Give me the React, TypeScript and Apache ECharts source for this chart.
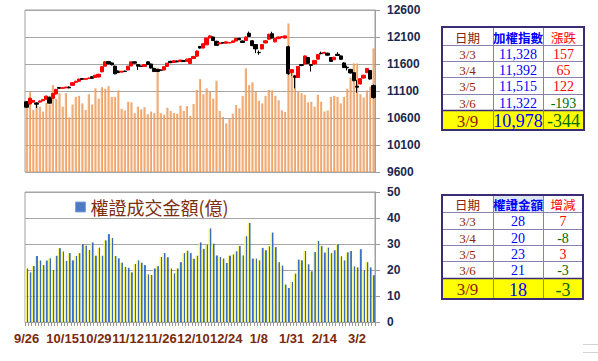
import { useEffect, useRef } from 'react';
import * as echarts from 'echarts';

const dates = [
  '9/26', '9/27', '9/30',
  '10/1', '10/2', '10/3', '10/4', '10/7', '10/8', '10/9', '10/14', '10/15', '10/16', '10/17', '10/18', '10/21', '10/22', '10/23', '10/24', '10/25', '10/28', '10/29', '10/30', '10/31',
  '11/1', '11/4', '11/5', '11/6', '11/7', '11/8', '11/11', '11/12', '11/13', '11/14', '11/15', '11/18', '11/19', '11/20', '11/21', '11/22', '11/25', '11/26', '11/27', '11/28', '11/29',
  '12/2', '12/3', '12/4', '12/5', '12/6', '12/9', '12/10', '12/11', '12/12', '12/13', '12/16', '12/17', '12/18', '12/19', '12/20', '12/23', '12/24', '12/25', '12/26', '12/27', '12/30', '12/31',
  '1/2', '1/3', '1/6', '1/7', '1/8', '1/9', '1/10', '1/13', '1/14', '1/15', '1/16', '1/17', '1/20', '1/30', '1/31',
  '2/3', '2/4', '2/5', '2/6', '2/7', '2/10', '2/11', '2/12', '2/13', '2/14', '2/17', '2/18', '2/19', '2/20', '2/21', '2/24', '2/25', '2/26', '2/27',
  '3/2', '3/3', '3/4', '3/5', '3/6', '3/9',
];

const tickLabels = ['9/26', '10/15', '10/29', '11/12', '11/26', '12/10', '12/24', '1/8', '1/31', '2/14', '3/2'];

// [open, close, low, high]
const ohlc = [
  [10900, 10800, 10790, 10915], [10860, 10965, 10850, 10975], [10895, 10925, 10885, 10935], [10880, 10855, 10785, 10890],
  [10895, 10915, 10885, 10925], [10920, 10940, 10910, 10950], [10946, 11005, 10940, 11015], [10985, 10875, 10865, 10995],
  [10965, 11055, 10955, 11065], [11045, 11130, 11035, 11140], [11165, 11150, 11140, 11175], [11150, 11160, 11145, 11170],
  [11160, 11172, 11150, 11180], [11172, 11158, 11150, 11185], [11205, 11254, 11200, 11262], [11262, 11280, 11255, 11290],
  [11280, 11320, 11272, 11328], [11330, 11316, 11308, 11338], [11318, 11326, 11310, 11334], [11330, 11340, 11322, 11348],
  [11365, 11335, 11328, 11372], [11350, 11392, 11342, 11400], [11360, 11410, 11352, 11418], [11455, 11550, 11448, 11558],
  [11560, 11640, 11555, 11650], [11645, 11602, 11595, 11655], [11620, 11585, 11575, 11628], [11560, 11418, 11410, 11570],
  [11470, 11440, 11432, 11480], [11450, 11465, 11440, 11472], [11468, 11462, 11455, 11478], [11490, 11560, 11484, 11566],
  [11565, 11640, 11560, 11648], [11640, 11615, 11608, 11650], [11590, 11560, 11490, 11598], [11562, 11555, 11548, 11570],
  [11555, 11590, 11548, 11598], [11640, 11590, 11582, 11648], [11600, 11525, 11518, 11606], [11520, 11460, 11452, 11528],
  [11500, 11462, 11455, 11506], [11488, 11484, 11476, 11495], [11490, 11550, 11484, 11556], [11555, 11615, 11548, 11622],
  [11650, 11625, 11615, 11658], [11628, 11660, 11620, 11668], [11655, 11640, 11632, 11662], [11645, 11672, 11638, 11680],
  [11665, 11645, 11640, 11672], [11650, 11690, 11645, 11698], [11610, 11700, 11605, 11708], [11700, 11740, 11695, 11750],
  [11745, 11840, 11735, 11850], [11925, 11896, 11885, 11935], [11896, 11975, 11890, 11985], [11955, 12080, 11950, 12090],
  [12085, 12120, 12075, 12135], [12100, 12035, 12025, 12110], [12020, 11945, 11935, 12030], [11975, 11990, 11965, 12000],
  [11995, 11988, 11980, 12005], [11985, 12010, 11978, 12018], [11992, 11995, 11985, 12002], [12000, 12026, 11990, 12035],
  [12026, 12075, 12020, 12082], [12075, 12050, 12042, 12085], [12026, 11997, 11990, 12035], [12035, 12100, 12028, 12110],
  [12170, 12110, 12100, 12200], [12030, 11940, 11930, 12040], [11960, 11880, 11800, 11968], [11815, 11810, 11770, 11850],
  [11880, 11960, 11870, 11970], [11990, 12030, 11982, 12040], [12060, 12150, 12050, 12160], [12160, 12080, 12070, 12197],
  [12010, 12070, 12000, 12078], [12070, 12100, 12060, 12110], [12095, 12105, 12085, 12115], [12080, 12120, 12070, 12130],
  [11920, 11421, 11400, 11940], [11440, 11495, 11380, 11505], [11380, 11354, 11150, 11400], [11350, 11555, 11340, 11565],
  [11590, 11574, 11560, 11600], [11600, 11749, 11595, 11760], [11720, 11612, 11600, 11730], [11590, 11574, 11460, 11600],
  [11600, 11664, 11592, 11672], [11690, 11774, 11682, 11782], [11800, 11791, 11780, 11830], [11800, 11815, 11792, 11825],
  [11800, 11763, 11755, 11810], [11720, 11648, 11640, 11728], [11680, 11725, 11672, 11735], [11780, 11758, 11750, 11820],
  [11750, 11686, 11678, 11758], [11620, 11534, 11525, 11630], [11540, 11530, 11480, 11570], [11500, 11434, 11425, 11510],
  [11440, 11292, 11280, 11450], [11190, 11171, 11070, 11300], [11230, 11328, 11220, 11338], [11340, 11392, 11330, 11402],
  [11440, 11515, 11430, 11525], [11480, 11322, 11310, 11490], [11200, 10978, 10960, 11220],
];

// market turnover (億), drawn behind the index
const turnover = [
  1210, 1480, 1150, 1240, 1210, 1120, 1280, 1250, 1610, 1350,
  1460, 1210, 1460, 1010, 1250, 1390, 1410, 1270, 1150, 1440,
  1250, 1550, 1360, 1570, 1540, 1590, 1390, 1390, 1510, 1170,
  1140, 1300, 1290, 1090, 1210, 1160, 1200, 1070, 1120, 1090,
  1930, 1090, 1060, 1190, 1130, 1090, 1080, 1230, 1130, 1220,
  1040, 1260, 1520, 1720, 1440, 1550, 1490, 1360, 1690, 1130,
  1020, 900, 980, 1080, 1240, 1180, 1410, 1920, 1610, 1660,
  1490, 1320, 1270, 1410, 1520, 1510, 1410, 1330, 1140, 1110,
  2750, 1830, 1770, 1490, 1460, 1430, 1290, 1300, 1210, 1430,
  1300, 1120, 1140, 1390, 1410, 1390, 1270, 1390, 1540, 1750,
  2010, 2010, 1440, 1380, 1510, 1580, 2290,
];

// warrant turnover (億)
const warrant = [
  20.6, 19.1, 21.5, 25.4, 23.7, 21.9, 23.7, 24.5, 20.0, 25.5,
  28.4, 27.1, 23.5, 26.5, 23.7, 25.4, 26.5, 30.0, 29.4, 27.7,
  30.6, 25.5, 28.6, 25.5, 31.4, 33.8, 32.3, 25.4, 24.5, 22.8,
  21.2, 20.9, 19.1, 22.3, 23.7, 22.8, 21.9, 18.3, 18.1, 20.6,
  21.5, 25.0, 26.5, 24.9, 20.6, 18.7, 20.6, 23.0, 26.5, 27.4,
  26.5, 24.3, 25.5, 30.6, 28.1, 29.7, 36.0, 30.1, 25.6, 25.0,
  24.4, 22.7, 25.5, 26.0, 27.2, 29.2, 25.6, 33.0, 38.1, 24.4,
  24.4, 23.7, 28.5, 27.6, 29.1, 34.4, 28.8, 23.0, 21.7, 14.4,
  13.1, 15.4, 18.6, 24.0, 23.7, 27.3, 22.2, 19.5, 26.9, 31.2,
  29.2, 26.7, 28.6, 26.5, 27.6, 29.9, 25.3, 23.7, 26.8, 27.3,
  21.4, 21, 28, 20, 23, 21, 18,
];

const tableDates = ['3/3', '3/4', '3/5', '3/6', '3/9'];
const indexValues = [11328, 11392, 11515, 11322, 10978];
const indexChanges = [157, 65, 122, -193, -344];
const warrantValues = [28, 20, 23, 21, 18];
const warrantChanges = [7, -8, 3, -3, -3];

const DATE_COLOR = '#8B2500';
const VALUE_COLOR = '#0000FF';
const UP_COLOR = '#FF0000';
const DOWN_COLOR = '#006B00';
const SERIF = '"Liberation Serif", "Noto Sans CJK TC", serif';
const CJK = '"Noto Sans CJK TC", sans-serif';
const AXIS_FONT = '"Liberation Sans", Arial, sans-serif';

function txt(x: number, y: number, text: string, fill: string, font: string) {
  return {
    type: 'text', x, y, silent: true, z: 20,
    style: { text, fill, font, textAlign: 'center', textVerticalAlign: 'middle', align: 'center', verticalAlign: 'middle' },
  };
}

function makeTable(colX: number[], rowY: number[], headers: string[], headerBold: boolean[], headerBg: (string | null)[],
  values: string[], changes: number[]) {
  const els: any[] = [];
  const w = colX[3] - colX[0];
  const n = rowY.length - 1;
  els.push({ type: 'rect', z: 10, silent: true, shape: { x: colX[0], y: rowY[0], width: w, height: rowY[n] - rowY[0] }, style: { fill: '#FFFFFF' } });
  els.push({ type: 'rect', z: 11, silent: true, shape: { x: colX[0], y: rowY[n - 1], width: w, height: rowY[n] - rowY[n - 1] }, style: { fill: '#FFFF00' } });
  headerBg.forEach((bg, c) => {
    if (bg) els.push({ type: 'rect', z: 11, silent: true, shape: { x: colX[c], y: rowY[0], width: colX[c + 1] - colX[c], height: rowY[1] - rowY[0] }, style: { fill: bg } });
  });
  for (let r = 1; r < n; r++) {
    els.push({ type: 'line', z: 12, silent: true, shape: { x1: colX[0], y1: rowY[r] + 0.5, x2: colX[3], y2: rowY[r] + 0.5 }, style: { stroke: r === n - 1 ? '#3B2C78' : '#8A80B0', lineWidth: r === n - 1 ? 1.5 : 1 } });
  }
  for (let c = 1; c < 3; c++) {
    els.push({ type: 'line', z: 12, silent: true, shape: { x1: colX[c] + 0.5, y1: rowY[0], x2: colX[c] + 0.5, y2: rowY[n] }, style: { stroke: '#8A80B0', lineWidth: 1 } });
  }
  els.push({ type: 'rect', z: 13, silent: true, shape: { x: colX[0], y: rowY[0], width: w, height: rowY[n] - rowY[0] }, style: { fill: 'none', stroke: '#3B2C78', lineWidth: 2 } });
  const headerColors = [DATE_COLOR, VALUE_COLOR, UP_COLOR];
  headers.forEach((h, c) => {
    els.push(txt((colX[c] + colX[c + 1]) / 2, (rowY[0] + rowY[1]) / 2 + 1, h, headerColors[c], `${headerBold[c] ? 'bold ' : ''}12.5px ${CJK}`));
  });
  for (let r = 0; r < tableDates.length; r++) {
    const last = r === tableDates.length - 1;
    const cy = (rowY[r + 1] + rowY[r + 2]) / 2 + 1;
    const ch = changes[r];
    els.push(txt((colX[0] + colX[1]) / 2, cy, tableDates[r], DATE_COLOR, `${last ? 17 : 13}px ${SERIF}`));
    els.push(txt((colX[1] + colX[2]) / 2, cy, values[r], VALUE_COLOR, `${last ? 18 : 14}px ${SERIF}`));
    els.push(txt((colX[2] + colX[3]) / 2, cy, String(ch), ch >= 0 ? UP_COLOR : DOWN_COLOR, `${last ? 18 : 14}px ${SERIF}`));
  }
  return els;
}

function buildOption(): any {
  const tableTop = makeTable([442, 493, 543, 584], [27, 45, 61, 77, 94, 110, 130],
    ['日期', '加權指數', '漲跌'], [false, true, false], [null, null, null],
    indexValues.map((v) => v.toLocaleString('en-US')), indexChanges);
  const tableBottom = makeTable([442, 493, 543, 583], [195, 212, 229, 245, 261, 278, 299],
    ['日期', '權證金額', '增減'], [false, true, false], [null, '#DCE6F4', null],
    warrantValues.map((v) => String(v)), warrantChanges);

  const axisLabelStyle = { fontFamily: AXIS_FONT, fontWeight: 'bold', fontSize: 12, color: '#1A2850', margin: 12 };

  return {
    animation: false,
    backgroundColor: '#FFFFFF',
    grid: [
      { left: 25, top: 10, width: 350, height: 162, show: true, borderColor: '#A0A0A0', borderWidth: 1, outerBoundsMode: 'none', containLabel: false },
      { left: 25, top: 192, width: 350, height: 130, show: true, borderColor: '#A0A0A0', borderWidth: 1, outerBoundsMode: 'none', containLabel: false },
    ],
    legend: {
      show: true,
      left: 70,
      top: 193,
      itemWidth: 10,
      itemHeight: 10,
      icon: 'rect',
      selectedMode: false,
      data: [{ name: '權證成交金額(億)', itemStyle: { color: '#3A6BC1', borderColor: '#7FA0DA', borderWidth: 1 } }],
      textStyle: { fontFamily: CJK, fontSize: 18, color: '#7C2E10' },
    },
    xAxis: [
      {
        type: 'category', gridIndex: 0, data: dates, boundaryGap: true,
        axisLine: { show: false }, axisTick: { show: false }, axisLabel: { show: false }, splitLine: { show: false },
      },
      {
        type: 'category', gridIndex: 1, data: dates, boundaryGap: true,
        axisLine: { show: true, lineStyle: { color: '#A0A0A0' } },
        axisTick: { show: true, interval: 0, length: 4, lineStyle: { color: '#9A9A9A' } },
        axisLabel: {
          show: true,
          interval: (idx: number) => tickLabels.includes(dates[idx]),
          hideOverlap: false,
          fontFamily: AXIS_FONT, fontWeight: 'bold', fontSize: 13, color: '#7A2A0C', margin: 10,
        },
        splitLine: { show: false },
      },
    ],
    yAxis: [
      {
        type: 'value', gridIndex: 0, position: 'right', min: 9600, max: 12600, interval: 500,
        axisLine: { show: true, lineStyle: { color: '#A0A0A0' } },
        axisTick: { show: true, length: 5, lineStyle: { color: '#9A9A9A' } },
        axisLabel: { ...axisLabelStyle, formatter: (v: number) => String(v) },
        splitLine: { show: true, lineStyle: { color: '#A6A6A6', width: 1 } },
      },
      {
        type: 'value', gridIndex: 0, min: 0, max: 3000, show: false, splitLine: { show: false },
      },
      {
        type: 'value', gridIndex: 1, position: 'right', min: 0, max: 50, interval: 10,
        axisLine: { show: true, lineStyle: { color: '#A0A0A0' } },
        axisTick: { show: true, length: 5, lineStyle: { color: '#9A9A9A' } },
        axisLabel: { ...axisLabelStyle, formatter: (v: number) => String(v) },
        splitLine: { show: true, lineStyle: { color: '#A6A6A6', width: 1 } },
      },
    ],
    series: [
      {
        name: '成交量', type: 'bar', xAxisIndex: 0, yAxisIndex: 1, data: turnover,
        barCategoryGap: '32%',
        itemStyle: {
          opacity: 0.85,
          color: new echarts.graphic.LinearGradient(0, 0, 1, 0, [
            { offset: 0, color: '#F5B784' },
            { offset: 1, color: '#E8873C' },
          ]),
        },
        silent: true,
      },
      {
        name: '加權指數', type: 'candlestick', xAxisIndex: 0, yAxisIndex: 0, data: ohlc,
        barWidth: 3.8,
        itemStyle: { color: '#FF0000', color0: '#000000', borderColor: '#FF0000', borderColor0: '#000000', borderWidth: 1 },
        silent: true,
        z: 3,
      },
      {
        name: '權證成交金額(億)', type: 'bar', xAxisIndex: 1, yAxisIndex: 2, data: warrant,
        barCategoryGap: '12%',
        itemStyle: {
          opacity: 0.9,
          color: new echarts.graphic.LinearGradient(0, 0, 1, 0, [
            { offset: 0, color: '#FFFF70' },
            { offset: 0.48, color: '#F2EC55' },
            { offset: 0.52, color: '#2A63C6' },
            { offset: 1, color: '#1C4EA6' },
          ]),
        },
        silent: true,
      },
    ],
    graphic: {
      elements: [
        ...tableTop,
        ...tableBottom,
        { type: 'line', silent: true, shape: { x1: 583, y1: 344.5, x2: 598, y2: 344.5 }, style: { stroke: '#D4D4D4', lineWidth: 1 } },
        { type: 'line', silent: true, shape: { x1: 583, y1: 352.5, x2: 598, y2: 352.5 }, style: { stroke: '#D4D4D4', lineWidth: 1 } },
      ],
    },
  };
}

export default function App() {
  const ref = useRef<HTMLDivElement>(null);
  useEffect(() => {
    if (!ref.current) return;
    const chart = echarts.init(ref.current, undefined, { renderer: 'svg' });
    chart.setOption(buildOption());
    return () => chart.dispose();
  }, []);
  return (
    <div
      ref={ref}
      style={{ position: 'absolute', left: 0, top: 0, width: 598, height: 361, background: '#FFFFFF' }}
    />
  );
}
